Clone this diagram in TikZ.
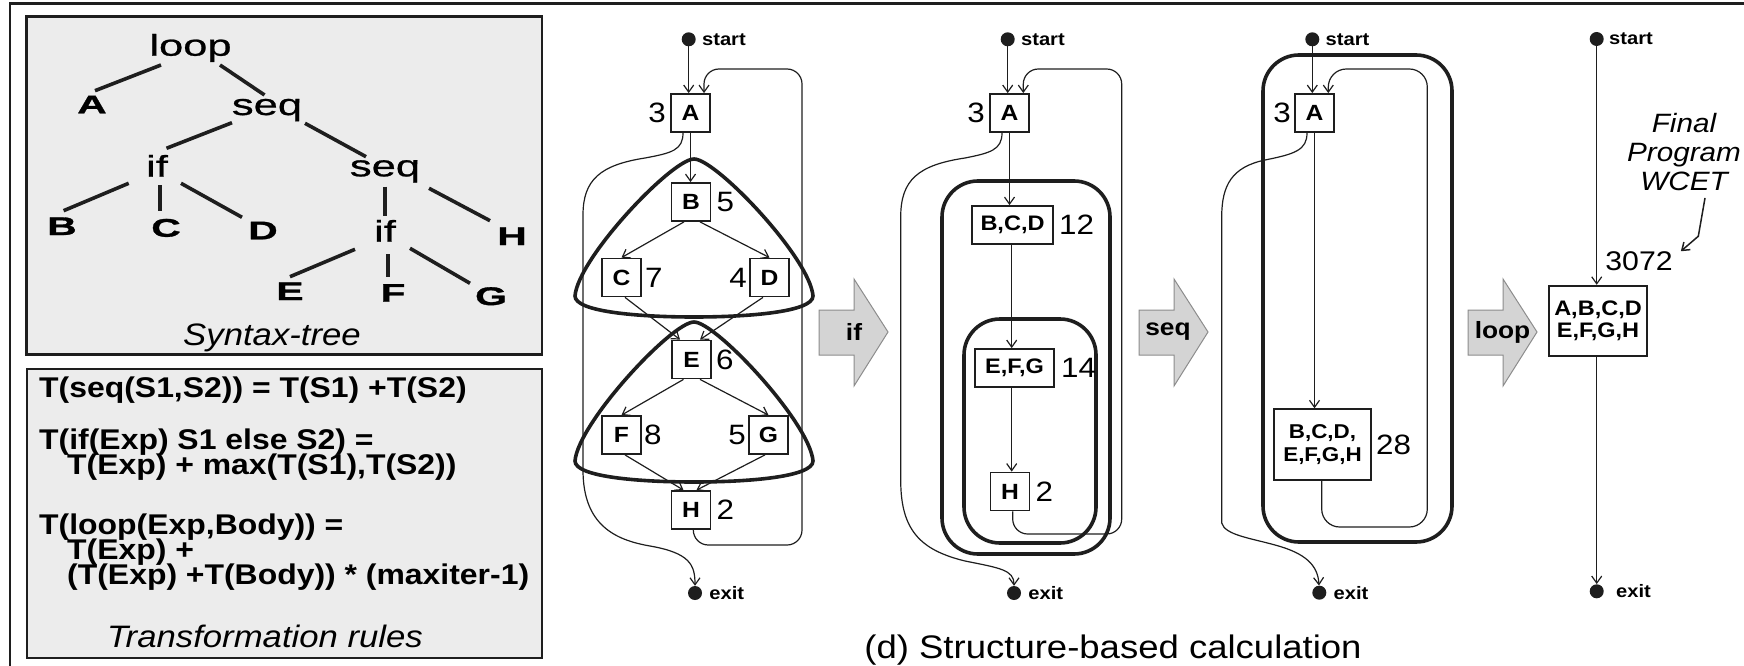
\documentclass[tikz,border=0pt]{standalone}
\usepackage{fontspec}
\setmainfont{Liberation Sans}[FakeStretch=1.12]
\newfontfamily\treefont{Liberation Sans}[FakeStretch=1.45, FakeBold=0.8]
\newfontfamily\leaffont{Liberation Sans}[FakeStretch=1.6, FakeBold=1.2]
\usetikzlibrary{arrows.meta,positioning}
\definecolor{ink}{HTML}{1E1E1E}
\definecolor{panel}{HTML}{ECECEC}
\definecolor{shade}{HTML}{D4D4D4}
\newcommand{\pxfont}[2]{\fontsize{#1}{#2}\selectfont}

\begin{document}
\begin{tikzpicture}[x=1pt, y=-1pt,
  every node/.style={inner sep=0pt},
  greybox/.style={draw=ink, line width=2.4pt, fill=panel},
  treeline/.style={draw=ink, line width=3.6pt},
  word/.style={font=\treefont\pxfont{30}{30}, anchor=base},
  leaf/.style={font=\leaffont\bfseries\pxfont{25.5}{25.5}, anchor=base},
  rule/.style={font=\bfseries\pxfont{28.5}{28.5}, anchor=base west},
  boxtitle/.style={font=\itshape\pxfont{31}{31}, anchor=base},
  blk/.style={draw=ink, line width=1.8pt, fill=white, minimum width=39pt, minimum height=38pt, font=\bfseries\pxfont{22}{22}},
  num/.style={font=\pxfont{28}{28}},
  dot/.style={circle, fill=ink, minimum size=14pt},
  term/.style={font=\bfseries\pxfont{18}{18}},
  flow/.style={draw=ink, line width=1.2pt, -{Straight Barb[length=7pt, width=10pt]}},
  region/.style={draw=ink, line width=3.6pt, rounded corners=36pt},
  ifblob/.style={draw=ink, line width=3.6pt},
  reduce/.style={fill=shade, draw=black!45, line width=1pt},
  reducelabel/.style={font=\bfseries\pxfont{23.5}{23.5}},
]
  \useasboundingbox (0,0) rectangle (1744,666);
  % frame
  \draw[ink, line width=2.4pt] (10,666) -- (10,3.5) -- (1744,3.5);

  % syntax tree
  \draw[greybox] (26.6,16.7) rectangle (542,354.3);
  \node[word] (tloop) at (190.5,55.7) {loop};
  \node[leaf] (tA) at (92,113.3) {A};
  \node[word] (tseq) at (267,115) {seq};
  \node[word] (tif) at (157,176.7) {if};
  \node[word] (tseqb) at (385,176.3) {seq};
  \node[leaf] (tB) at (62,235) {B};
  \node[leaf] (tC) at (166,236.7) {C};
  \node[leaf] (tD) at (263,239.3) {D};
  \node[word] (tifb) at (385,241.7) {if};
  \node[leaf] (tH) at (512,245) {H};
  \node[leaf] (tE) at (290,300) {E};
  \node[leaf] (tF) at (393,301.7) {F};
  \node[leaf] (tG) at (491,305) {G};
  \node[boxtitle] (treecap) at (272,345) {Syntax-tree};

  \draw[treeline] ([shift={(-29.5,9.3)}]tloop.base) -- ([shift={(3,-22.6)}]tA.base);
  \draw[treeline] ([shift={(29.5,9.3)}]tloop.base) -- ([shift={(-2.5,-20)}]tseq.base);
  \draw[treeline] ([shift={(-35,7.7)}]tseq.base) -- ([shift={(9.5,-28.4)}]tif.base);
  \draw[treeline] ([shift={(38,8.3)}]tseq.base) -- ([shift={(-19,-19.6)}]tseqb.base);
  \draw[treeline] ([shift={(-28.3,6.6)}]tif.base) -- ([shift={(1.6,-24.3)}]tB.base);
  \draw[treeline] ([shift={(3,8.3)}]tif.base) -- ([shift={(-6,-26)}]tC.base);
  \draw[treeline] ([shift={(24,6.6)}]tif.base) -- ([shift={(-21,-22)}]tD.base);
  \draw[treeline] ([shift={(0,10.4)}]tseqb.base) -- ([shift={(0,-25.7)}]tifb.base);
  \draw[treeline] ([shift={(44,12)}]tseqb.base) -- ([shift={(-22,-24.3)}]tH.base);
  \draw[treeline] ([shift={(-30,7.6)}]tifb.base) -- ([shift={(0,-23.3)}]tE.base);
  \draw[treeline] ([shift={(3,12.3)}]tifb.base) -- ([shift={(-5,-24.4)}]tF.base);
  \draw[treeline] ([shift={(25,6.6)}]tifb.base) -- ([shift={(-21,-21.7)}]tG.base);

  % transformation rules
  \draw[greybox] (26.7,369) rectangle (542,658);
  \node[rule] (rseq) at (39,397) {T(seq(S1,S2)) = T(S1) +T(S2)};
  \node[rule] (rif) at (39,449) {T(if(Exp) S1 else S2) =};
  \node[rule] (rifb) at (67,474) {T(Exp) + max(T(S1),T(S2))};
  \node[rule] (rloop) at (39,534) {T(loop(Exp,Body)) =};
  \node[rule] (rloopb) at (67,559) {T(Exp) +};
  \node[rule] (rloopc) at (67,584) {(T(Exp) +T(Body)) * (maxiter-1)};
  \node[boxtitle] (rulecap) at (265,647.3) {Transformation rules};

  % CFG before reduction
  \node[dot] (s1) at (688.7,39.3) {};
  \node[term, right=6pt of s1] (s1t) {start};
  \node[blk] (a1) at (690.5,113) {A};
  \node[num, left=4pt of a1] (a1n) {3};
  \node[blk] (b1) at (691,202) {B};
  \node[num, right=5pt of b1] (b1n) {5};
  \node[blk] (c1) at (621.5,277.5) {C};
  \node[num, right=3pt of c1] (c1n) {7};
  \node[blk] (d1) at (769.5,277.5) {D};
  \node[num, left=2pt of d1] (d1n) {4};
  \node[blk] (e1) at (691.5,359.5) {E};
  \node[num, right=4pt of e1] (e1n) {6};
  \node[blk] (f1) at (621.5,435) {F};
  \node[num, right=2pt of f1] (f1n) {8};
  \node[blk] (g1) at (768.5,435) {G};
  \node[num, left=2pt of g1] (g1n) {5};
  \node[blk] (h1) at (691,510) {H};
  \node[num, right=5pt of h1] (h1n) {2};
  \node[dot] (x1) at (695,593) {};
  \node[term, right=7pt of x1] (x1t) {exit};

  \draw[ifblob] (694,159) .. controls (672,159) and (578,258) .. (575,296)
    .. controls (575,312) and (640,317) .. (694,317)
    .. controls (748,317) and (813,312) .. (813,296)
    .. controls (810,258) and (716,159) .. cycle;
  \draw[ifblob] (694,322) .. controls (672,322) and (578,423) .. (575,461)
    .. controls (575,477) and (640,482) .. (694,482)
    .. controls (748,482) and (813,477) .. (813,461)
    .. controls (810,423) and (716,322) .. cycle;

  \draw[flow] (s1) -- (s1 |- a1.north);
  \draw[flow] (a1.south) -- (a1.south |- b1.north);
  \draw[flow] ([xshift=-7pt]b1.south) -- (c1.north);
  \draw[flow] ([xshift=9pt]b1.south) -- (d1.north);
  \draw[flow] ([xshift=3.5pt]c1.south) -- ([xshift=-11.5pt]e1.north);
  \draw[flow] ([xshift=-6.5pt]d1.south) -- ([xshift=8.5pt]e1.north);
  \draw[flow] ([xshift=-8pt]e1.south) -- (f1.north);
  \draw[flow] ([xshift=8.5pt]e1.south) -- (g1.north);
  \draw[flow] ([xshift=3.5pt]f1.south) -- ([xshift=-7.5pt]h1.north);
  \draw[flow] ([xshift=-3.5pt]g1.south) -- ([xshift=5.5pt]h1.north);
  \draw[flow, rounded corners=15pt] ([xshift=2.3pt]h1.south) -- (693.3,545) -- (802,545)
    -- (802,69) -- (704,69) -- ([xshift=13.5pt]a1.north);
  \draw[flow] ([xshift=-7.5pt]a1.south) .. controls (683,150) and (672,153) .. (645,158)
    .. controls (600,165) and (583,180) .. (583,215) -- (583,470)
    .. controls (583,525) and (615,540) .. (650,546)
    .. controls (690,553) and (695,565) .. (x1);

  % if reduction
  \draw[reduce] (819,310) -- ++(35,0) -- ++(0,-31) -- ++(34,53) -- ++(-34,54) -- ++(0,-31) -- ++(-35,0) -- cycle;
  \node[reducelabel] (rdif) at (854,332) {if};

  % CFG after if reduction
  \node[dot] (s2) at (1007.7,39.3) {};
  \node[term, right=6pt of s2] (s2t) {start};
  \node[blk] (a2) at (1009.5,113) {A};
  \node[num, left=4pt of a2] (a2n) {3};
  \draw[region] (942,181) rectangle (1110,554);
  \draw[region] (964,319) rectangle (1096,543);
  \node[blk, minimum width=81pt, font=\bfseries\pxfont{21}{21}] (bcd2) at (1012.5,225) {B,C,D};
  \node[num, right=5pt of bcd2] (bcd2n) {12};
  \node[blk, minimum width=79pt, font=\bfseries\pxfont{21}{21}] (efg2) at (1014.5,368) {E,F,G};
  \node[num, right=6pt of efg2] (efg2n) {14};
  \node[blk] (h2) at (1010,491.5) {H};
  \node[num, right=5pt of h2] (h2n) {2};
  \node[dot] (x2) at (1014,593) {};
  \node[term, right=7pt of x2] (x2t) {exit};

  \draw[flow] (s2) -- (s2 |- a2.north);
  \draw[flow] (a2.south) -- (a2.south |- bcd2.north);
  \draw[flow] ([xshift=-0.8pt]bcd2.south) -- ([xshift=-0.8pt]bcd2.south |- efg2.north);
  \draw[flow] ([xshift=-2.8pt]efg2.south) -- ([xshift=-2.8pt]efg2.south |- h2.north);
  \draw[flow, rounded corners=15pt] ([xshift=2.7pt]h2.south) -- (1012.7,534) -- (1121.7,534)
    -- (1121.7,69) -- (1023.3,69) -- ([xshift=13.8pt]a2.north);
  \draw[flow] ([xshift=-7.5pt]a2.south) .. controls (1002,150) and (990,153) .. (965,158)
    .. controls (918,165) and (900.7,180) .. (900.7,217) -- (900.7,480)
    .. controls (900.7,530) and (920,550) .. (965,561)
    .. controls (1000,568) and (1014,570) .. (x2);

  % seq reduction
  \draw[reduce] (1139,310) -- ++(35,0) -- ++(0,-31) -- ++(34,53) -- ++(-34,54) -- ++(0,-31) -- ++(-35,0) -- cycle;
  \node[reducelabel] (rdseq) at (1168,332) {seq};

  % CFG after seq reduction
  \node[dot] (s3) at (1312.3,39.3) {};
  \node[term, right=6pt of s3] (s3t) {start};
  \draw[region] (1263,55) rectangle (1452,542);
  \node[blk] (a3) at (1314.5,113) {A};
  \node[num, left=3pt of a3] (a3n) {3};
  \node[blk, minimum width=97pt, minimum height=71pt, align=center, font=\bfseries\pxfont{20}{22.7}] (body3) at (1322.5,444.7) {B,C,D,\\E,F,G,H};
  \node[num, right=4pt of body3] (body3n) {28};
  \node[dot] (x3) at (1319.3,592.7) {};
  \node[term, right=7pt of x3] (x3t) {exit};

  \draw[flow] (s3) -- (s3 |- a3.north);
  \draw[flow] (a3.south) -- (a3.south |- body3.north);
  \draw[flow, rounded corners=18pt] ([xshift=-0.8pt]body3.south) -- (1321.7,527) -- (1427.3,527)
    -- (1427.3,69) -- (1328.3,69) -- ([xshift=13.8pt]a3.north);
  \draw[flow] ([xshift=-7.5pt]a3.south) .. controls (1307,150) and (1295,154) .. (1265,160)
    .. controls (1232,167) and (1221.7,185) .. (1221.7,217) -- (1221.7,523)
    .. controls (1225,535) and (1250,538) .. (1275,545)
    .. controls (1305,553) and (1318,565) .. (x3);

  % loop reduction
  \draw[reduce] (1468,310) -- ++(35,0) -- ++(0,-31) -- ++(34,53) -- ++(-34,54) -- ++(0,-31) -- ++(-35,0) -- cycle;
  \node[reducelabel] (rdloop) at (1502.5,332.5) {loop};

  % final program
  \node[dot] (s4) at (1596.7,39) {};
  \node[term, right=5pt of s4] (s4t) {start};
  \node[blk, minimum width=98pt, minimum height=70pt, align=center, font=\bfseries\pxfont{21}{22}] (all4) at (1598,320.7) {A,B,C,D\\E,F,G,H};
  \node[dot] (x4) at (1596.7,591.3) {};
  \node[term, right=12pt of x4] (x4t) {exit};
  \node[num, font=\pxfont{27}{27}] (wcetval) at (1639,261) {3072};
  \node[font=\itshape\pxfont{26.5}{29}, align=center] (wcet) at (1684,152) {Final\\Program\\WCET};

  \draw[flow] (s4) -- (s4 |- all4.north);
  \draw[flow] (all4.south -| s4) -- (x4);
  \draw[flow, line width=1.5pt] ([xshift=21pt,yshift=-7pt]wcet.south) -- ++(-6.7,38.3) -- ([xshift=8pt]wcetval.north east);

  \node[font=\pxfont{32.6}{32.6}] (caption) at (1113,650) {(d) Structure-based calculation};
\end{tikzpicture}
\end{document}
